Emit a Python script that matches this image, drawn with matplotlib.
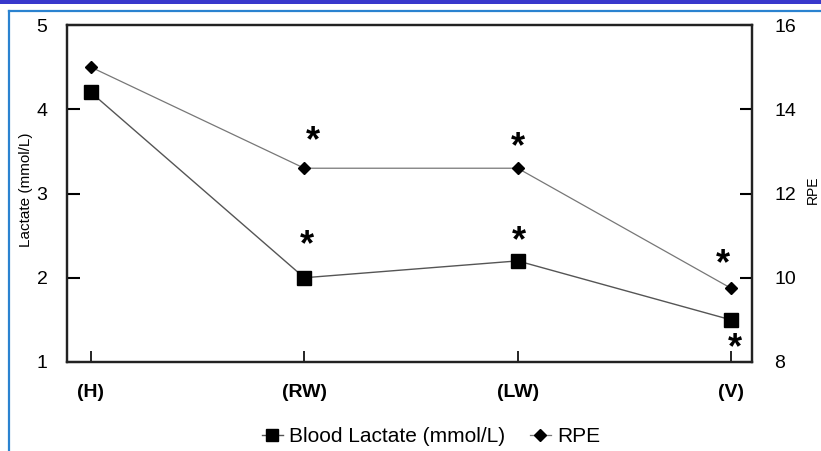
import numpy as np
import matplotlib.pyplot as plt
from matplotlib.lines import Line2D

plt.rcParams['font.family'] = ['Liberation Sans', 'DejaVu Sans']

# sessions and measurements
sessions = ['(H)', '(RW)', '(LW)', '(V)']
lactate = [4.2, 2.0, 2.2, 1.5]      # mmol/L
rpe = [15.0, 12.6, 12.6, 9.75]

# significance markers: (session index, offset in points)
lactate_stars = [(1, (2, 23)), (2, (1, 14)), (3, (3, -21))]
rpe_stars = [(1, (6, 19)), (2, (0, 15)), (3, (-6, 17))]

fig = plt.figure(figsize=(8.21, 4.51), dpi=100)

# page decorations: top bar and framing lines
fig.add_artist(plt.Rectangle((0, 1 - 4 / 451), 1, 4 / 451, transform=fig.transFigure,
                             color='#3838cc', lw=0))
fig.add_artist(Line2D([9 / 821, 1], [1 - 11 / 451] * 2, transform=fig.transFigure,
                      color='#2a82d0', lw=1.6))
fig.add_artist(Line2D([9 / 821] * 2, [0, 1 - 11 / 451], transform=fig.transFigure,
                      color='#2a82d0', lw=1.6))

ax = fig.add_axes([67 / 821, 1 - 362 / 451, (752 - 67) / 821, (362 - 25) / 451])
ax2 = ax.twinx()

x = np.arange(len(sessions))
ax.plot(x, lactate, color='#555555', lw=1.0, marker='s', ms=10, mfc='black', mec='black', zorder=3)
ax2.plot(x, rpe, color='#777777', lw=0.9, marker='D', ms=6.5, mfc='black', mec='black', zorder=3)

ax.set_xlim(-0.112, 3.098)
ax.set_ylim(1, 5)
ax2.set_ylim(8, 16)
ax.set_yticks([1, 2, 3, 4, 5])
ax2.set_yticks([8, 10, 12, 14, 16])
ax.set_xticks(x)
ax.set_xticklabels(sessions, fontweight='bold', fontsize=14)

for a in (ax, ax2):
    for s in a.spines.values():
        s.set_linewidth(1.6)
        s.set_color('#222222')
ax.tick_params(axis='y', direction='in', length=9, width=1.5, labelsize=14, pad=14)
ax2.tick_params(axis='y', direction='in', length=9, width=1.5, labelsize=14, pad=16)
ax.tick_params(axis='x', direction='in', length=8, width=1.2, pad=16)

ax.set_ylabel('Lactate (mmol/L)', fontsize=11)
ax.yaxis.set_label_coords(-0.05, 0.51)
ax2.set_ylabel('RPE', fontsize=10)
ax2.yaxis.set_label_coords(1.079, 0.51)

for i, off in lactate_stars:
    ax.annotate('*', (x[i], lactate[i]), xytext=off, textcoords='offset points',
                ha='center', va='center', fontsize=26, fontweight='bold')
for i, off in rpe_stars:
    ax2.annotate('*', (x[i], rpe[i]), xytext=off, textcoords='offset points',
                 ha='center', va='center', fontsize=26, fontweight='bold')

handles = [
    Line2D([], [], color='#555555', lw=1.0, marker='s', ms=9, mfc='black', mec='black'),
    Line2D([], [], color='#777777', lw=0.9, marker='D', ms=6, mfc='black', mec='black'),
]
fig.legend(handles, ['Blood Lactate (mmol/L)', 'RPE'], loc='center',
           bbox_to_anchor=(431 / 821, 1 - 437 / 451), ncol=2, frameon=False,
           fontsize=15, handlelength=1.0, handletextpad=0.3, columnspacing=1.2)

fig.savefig('out.png', dpi=100)
